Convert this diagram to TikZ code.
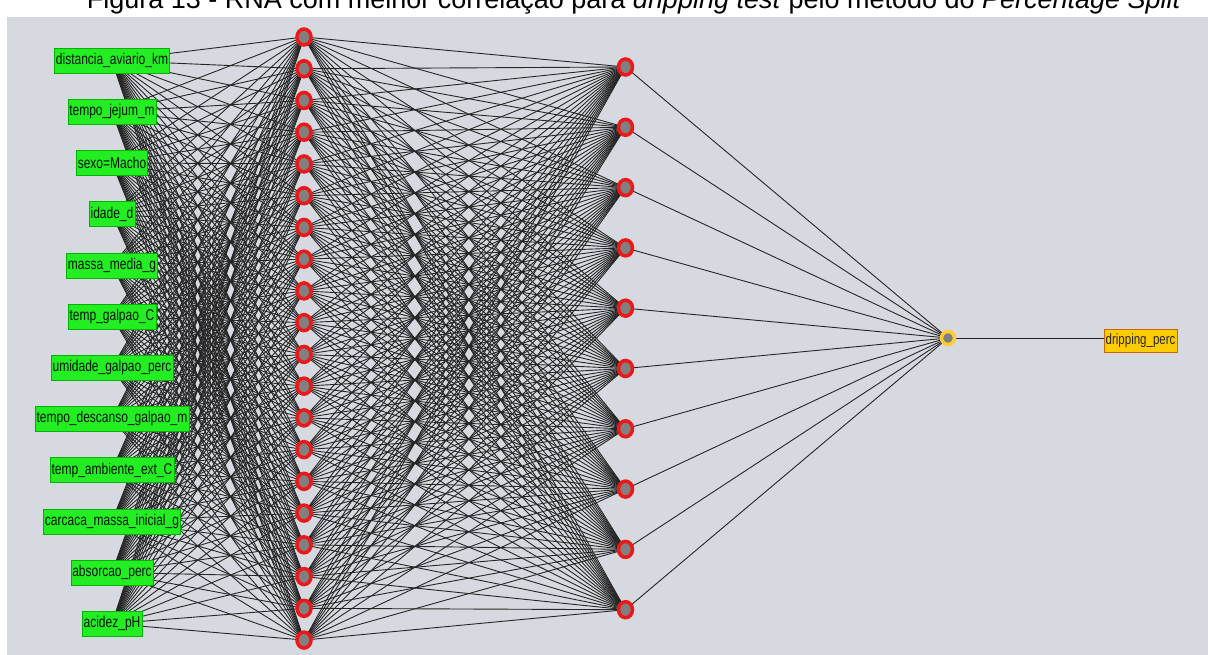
\documentclass[tikz,border=0pt]{standalone}
\usepackage{fontspec}
\setmainfont{Liberation Sans}
\usetikzlibrary{shapes.geometric,backgrounds}

\definecolor{panelgray}{RGB}{214,217,223}
\definecolor{inputgreen}{RGB}{34,238,34}
\definecolor{neuronred}{RGB}{238,24,24}
\definecolor{neurongray}{RGB}{128,128,128}
\definecolor{outgold}{RGB}{255,204,0}
\definecolor{outring}{RGB}{255,204,51}

\newcommand{\tallText}[1]{\scalebox{1}[1.3]{#1}}

\begin{document}
\begin{tikzpicture}[x=1pt, y=-1pt,
    inbox/.style={fill=inputgreen, draw=green!70!black, line width=0.4pt,
      inner sep=1.5pt, minimum height=25pt,
      font=\fontsize{12}{14}\selectfont, text=black!80!green!40!black},
    hidden/.style={ellipse, draw=neuronred, line width=3.5pt, fill=neurongray,
      minimum width=14pt, minimum height=16pt, inner sep=0pt},
    outnode/.style={circle, draw=outring, line width=3.5pt, fill=neurongray,
      minimum size=13pt, inner sep=0pt},
    outlbl/.style={fill=outgold, draw=orange!80!black, line width=0.4pt,
      inner sep=1.5pt, minimum height=23pt,
      font=\fontsize{11.5}{14}\selectfont, text=black!85},
    link/.style={line width=0.9pt, draw=black!85}
]
\useasboundingbox (0,0) rectangle (1208,655);
\clip (0,0) rectangle (1208,655);

% --- Titulo (cortado no topo) ---
\node[font=\fontsize{27}{30}\selectfont, anchor=base] (caption) at (634,9)
      {Figura 13 - RNA com melhor correlação para \textit{dripping test} pelo método do \textit{Percentage Split}};

% --- Camada de entrada ---
\foreach \lbl [count=\i] in {distancia\_aviario\_km, tempo\_jejum\_m,
    sexo=Macho, idade\_d, massa\_media\_g, temp\_galpao\_C,
    umidade\_galpao\_perc, tempo\_descanso\_galpao\_m, temp\_ambiente\_ext\_C,
    carcaca\_massa\_inicial\_g, absorcao\_perc, acidez\_pH}
  \node[inbox] (in-\i) at (112, {60.5+(\i-1)*51.2}) {\tallText{\lbl}};

% --- Camadas ocultas ---
\foreach \j in {1,...,20}
  \node[hidden] (h1-\j) at (304, {37+(\j-1)*31.74}) {};
\foreach \k in {1,...,10}
  \node[hidden] (h2-\k) at (625.5, {67+(\k-1)*60.3}) {};

% --- Saida ---
\node[outnode] (out) at (948,338) {};
\node[outlbl, anchor=west] (target) at (1104,340.5) {\tallText{dripping\_perc}};

% --- Conexoes (atras dos nos) ---
\begin{scope}[on background layer]
  \fill[panelgray] (7,17) rectangle (1208,655);
  \foreach \i in {1,...,12}
    \foreach \j in {1,...,20}
      \draw[link] (in-\i.center) -- (h1-\j.center);
  \foreach \j in {1,...,20}
    \foreach \k in {1,...,10}
      \draw[link] (h1-\j.center) -- (h2-\k.center);
  \foreach \k in {1,...,10}
    \draw[link] (h2-\k.center) -- (out.center);
  \draw[link] (out.center) -- (out -| target.west);
\end{scope}
\end{tikzpicture}
\end{document}
